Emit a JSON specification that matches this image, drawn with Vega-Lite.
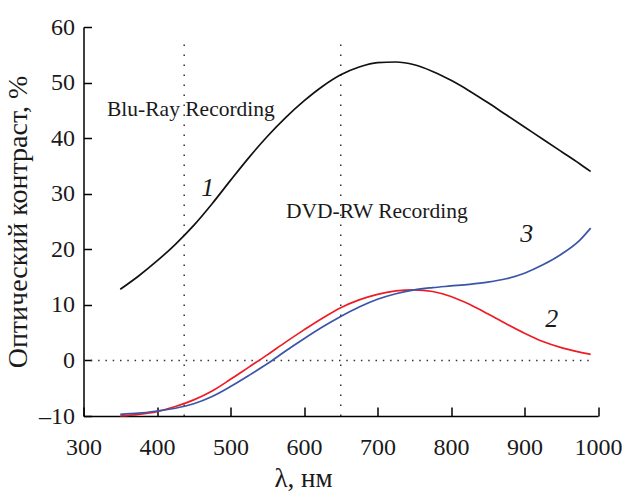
{
  "$schema": "https://vega.github.io/schema/vega-lite/v6.json",
  "width": 514.5,
  "height": 389,
  "autosize": {"type": "none"},
  "padding": {"left": 83.5, "top": 27, "right": 29, "bottom": 75},
  "background": "white",
  "config": {
    "view": {"stroke": null},
    "font": "Liberation Serif",
    "axis": {
      "grid": false,
      "domainColor": "black",
      "domainWidth": 1.5,
      "tickColor": "black",
      "tickWidth": 1.5,
      "labelFont": "Liberation Serif",
      "labelFontSize": 24,
      "labelColor": "#1a1a1a",
      "labelFlush": false,
      "labelOverlap": false,
      "titleFont": "Liberation Serif",
      "titleFontWeight": "normal",
      "titleColor": "#1a1a1a",
      "titleFontSize": 27
    }
  },
  "datasets": {
    "curves": [
      {"nm": 350, "v": 12.8, "s": "1"}, {"nm": 375, "v": 15.2, "s": "1"}, {"nm": 400, "v": 17.9, "s": "1"},
      {"nm": 425, "v": 20.9, "s": "1"}, {"nm": 450, "v": 24.3, "s": "1"}, {"nm": 475, "v": 28.2, "s": "1"},
      {"nm": 500, "v": 32.4, "s": "1"}, {"nm": 525, "v": 36.5, "s": "1"}, {"nm": 550, "v": 40.3, "s": "1"},
      {"nm": 575, "v": 43.7, "s": "1"}, {"nm": 600, "v": 46.7, "s": "1"}, {"nm": 625, "v": 49.3, "s": "1"},
      {"nm": 650, "v": 51.4, "s": "1"}, {"nm": 675, "v": 52.8, "s": "1"}, {"nm": 700, "v": 53.6, "s": "1"},
      {"nm": 725, "v": 53.7, "s": "1"}, {"nm": 750, "v": 53.2, "s": "1"}, {"nm": 775, "v": 52.0, "s": "1"},
      {"nm": 800, "v": 50.4, "s": "1"}, {"nm": 825, "v": 48.5, "s": "1"}, {"nm": 850, "v": 46.4, "s": "1"},
      {"nm": 875, "v": 44.2, "s": "1"}, {"nm": 900, "v": 42.0, "s": "1"}, {"nm": 925, "v": 39.8, "s": "1"},
      {"nm": 950, "v": 37.6, "s": "1"}, {"nm": 975, "v": 35.4, "s": "1"}, {"nm": 990, "v": 34.0, "s": "1"},

      {"nm": 350, "v": -10.0, "s": "2"}, {"nm": 375, "v": -9.7, "s": "2"}, {"nm": 400, "v": -9.2, "s": "2"},
      {"nm": 425, "v": -8.3, "s": "2"}, {"nm": 450, "v": -7.1, "s": "2"}, {"nm": 475, "v": -5.5, "s": "2"},
      {"nm": 500, "v": -3.4, "s": "2"}, {"nm": 525, "v": -1.2, "s": "2"}, {"nm": 550, "v": 1.0, "s": "2"},
      {"nm": 575, "v": 3.3, "s": "2"}, {"nm": 600, "v": 5.5, "s": "2"}, {"nm": 625, "v": 7.6, "s": "2"},
      {"nm": 650, "v": 9.5, "s": "2"}, {"nm": 675, "v": 10.9, "s": "2"}, {"nm": 700, "v": 11.9, "s": "2"},
      {"nm": 725, "v": 12.5, "s": "2"}, {"nm": 750, "v": 12.7, "s": "2"}, {"nm": 775, "v": 12.4, "s": "2"},
      {"nm": 800, "v": 11.5, "s": "2"}, {"nm": 825, "v": 10.1, "s": "2"}, {"nm": 850, "v": 8.4, "s": "2"},
      {"nm": 875, "v": 6.6, "s": "2"}, {"nm": 900, "v": 4.9, "s": "2"}, {"nm": 925, "v": 3.4, "s": "2"},
      {"nm": 950, "v": 2.3, "s": "2"}, {"nm": 975, "v": 1.5, "s": "2"}, {"nm": 990, "v": 1.1, "s": "2"},

      {"nm": 350, "v": -9.7, "s": "3"}, {"nm": 375, "v": -9.5, "s": "3"}, {"nm": 400, "v": -9.1, "s": "3"},
      {"nm": 425, "v": -8.6, "s": "3"}, {"nm": 450, "v": -7.8, "s": "3"}, {"nm": 475, "v": -6.5, "s": "3"},
      {"nm": 500, "v": -4.7, "s": "3"}, {"nm": 525, "v": -2.7, "s": "3"}, {"nm": 550, "v": -0.6, "s": "3"},
      {"nm": 575, "v": 1.7, "s": "3"}, {"nm": 600, "v": 3.9, "s": "3"}, {"nm": 625, "v": 6.0, "s": "3"},
      {"nm": 650, "v": 7.9, "s": "3"}, {"nm": 675, "v": 9.6, "s": "3"}, {"nm": 700, "v": 11.0, "s": "3"},
      {"nm": 725, "v": 12.0, "s": "3"}, {"nm": 750, "v": 12.7, "s": "3"}, {"nm": 775, "v": 13.1, "s": "3"},
      {"nm": 800, "v": 13.4, "s": "3"}, {"nm": 825, "v": 13.7, "s": "3"}, {"nm": 850, "v": 14.1, "s": "3"},
      {"nm": 875, "v": 14.7, "s": "3"}, {"nm": 900, "v": 15.7, "s": "3"}, {"nm": 925, "v": 17.2, "s": "3"},
      {"nm": 950, "v": 19.1, "s": "3"}, {"nm": 975, "v": 21.6, "s": "3"}, {"nm": 990, "v": 23.8, "s": "3"}
    ],
    "vlines": [
      {"nm": 437, "lo": -10, "hi": 57.9},
      {"nm": 650, "lo": -10, "hi": 57.9}
    ],
    "hline": [
      {"nm": 300, "nm2": 990, "v": 0}
    ],
    "notes": [
      {"nm": 332, "v": 45.1, "t": "Blu-Ray Recording"},
      {"nm": 575.5, "v": 26.7, "t": "DVD-RW Recording"}
    ],
    "nums": [
      {"nm": 469, "v": 31.0, "t": "1"},
      {"nm": 903, "v": 22.8, "t": "3"},
      {"nm": 937, "v": 7.5, "t": "2"}
    ]
  },
  "encoding": {
    "x": {
      "type": "quantitative",
      "scale": {"domain": [300, 1000], "nice": false, "zero": false},
      "axis": {
        "title": "λ, нм",
        "values": [300, 400, 500, 600, 700, 800, 900, 1000],
        "format": "d",
        "tickSize": -9,
        "labelPadding": 28,
        "titleX": 219.5,
        "titleY": 70,
        "titleAnchor": null,
        "titleAlign": "center",
        "titleBaseline": "alphabetic"
      }
    },
    "y": {
      "type": "quantitative",
      "scale": {"domain": [-10, 60], "nice": false, "zero": false},
      "axis": {
        "title": "Оптический контраст, %",
        "titleFontSize": 28,
        "values": [-10, 0, 10, 20, 30, 40, 50, 60],
        "labelExpr": "replace(datum.label, '−', '–')",
        "tickSize": -8,
        "labelPadding": 17,
        "titlePadding": 6
      }
    }
  },
  "layer": [
    {
      "data": {"name": "vlines"},
      "mark": {"type": "rule", "color": "#333", "strokeWidth": 1.5, "strokeDash": [1.5, 8.5]},
      "encoding": {
        "x": {"field": "nm"},
        "y": {"field": "lo"},
        "y2": {"field": "hi"}
      }
    },
    {
      "data": {"name": "hline"},
      "mark": {"type": "rule", "color": "#333", "strokeWidth": 1.5, "strokeDash": [1.5, 5.8]},
      "encoding": {
        "x": {"field": "nm"},
        "x2": {"field": "nm2"},
        "y": {"field": "v"}
      }
    },
    {
      "data": {"name": "curves"},
      "mark": {"type": "line", "interpolate": "monotone", "strokeWidth": 1.7},
      "encoding": {
        "x": {"field": "nm"},
        "y": {"field": "v"},
        "detail": {"field": "s"},
        "color": {
          "field": "s",
          "type": "nominal",
          "scale": {"domain": ["1", "2", "3"], "range": ["#111111", "#ee1c25", "#3a55a8"]},
          "legend": null
        }
      }
    },
    {
      "data": {"name": "notes"},
      "mark": {"type": "text", "align": "left", "baseline": "middle", "fontSize": 21.5, "font": "Liberation Serif", "color": "#1a1a1a"},
      "encoding": {
        "x": {"field": "nm"},
        "y": {"field": "v"},
        "text": {"field": "t"}
      }
    },
    {
      "data": {"name": "nums"},
      "mark": {"type": "text", "align": "center", "baseline": "middle", "fontSize": 26, "fontStyle": "italic", "font": "Liberation Serif", "color": "#1a1a1a"},
      "encoding": {
        "x": {"field": "nm"},
        "y": {"field": "v"},
        "text": {"field": "t"}
      }
    }
  ]
}
